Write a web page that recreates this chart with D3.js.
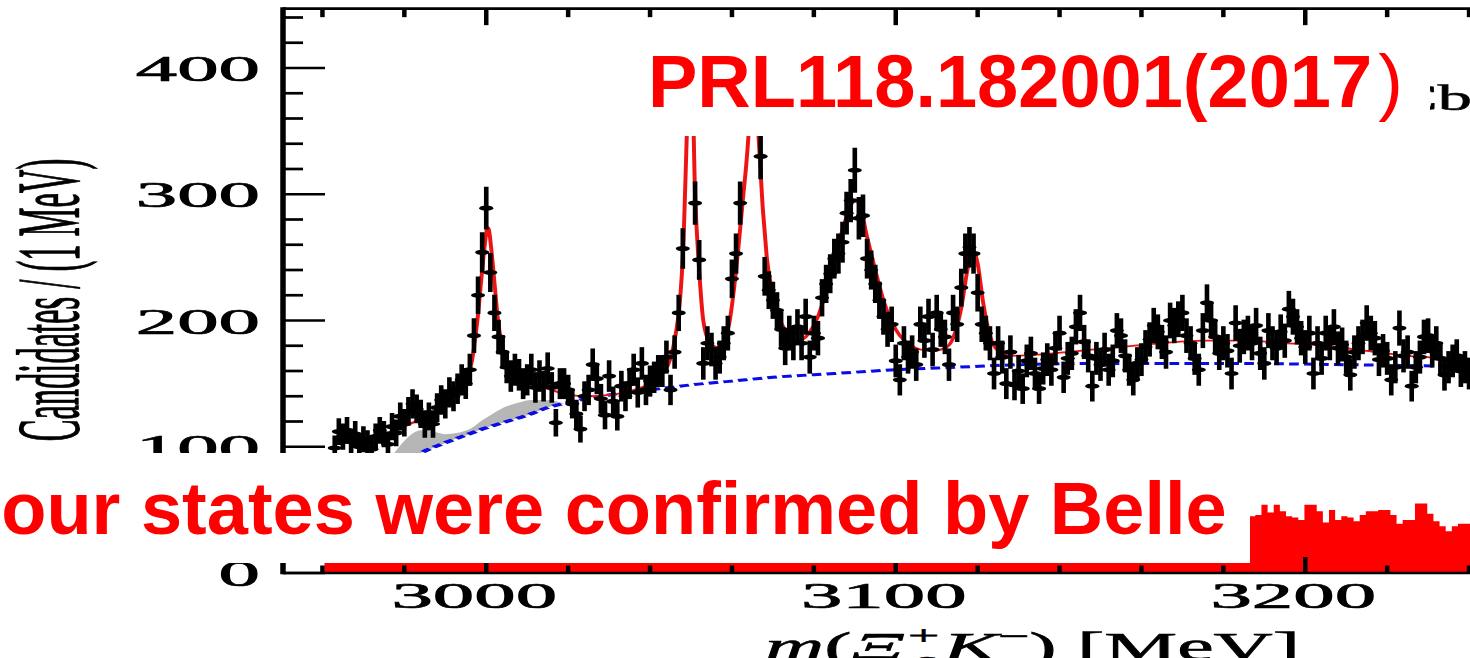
<!DOCTYPE html>
<html>
<head>
<meta charset="utf-8">
<script src="https://cdn.jsdelivr.net/npm/d3@7"></script>
<style>
  html, body { margin: 0; padding: 0; background: #fff; overflow: hidden; }
  svg { display: block; }
</style>
</head>
<body>
<svg id="chart" width="1470" height="658"></svg>
<script>
// ---- data -------------------------------------------------------------
// Xi_c+ K- invariant-mass spectrum, 1 MeV bins, first bin centred at 2963 MeV
const massStart = 2963;
const counts = [
  99, 112, 108, 113, 104, 110, 100, 106, 103, 98,        // 2963-2972
  108, 113, 110, 102, 116, 111, 124, 119, 128, 134,      // 2973-2982
  130, 126, 118, 124, 118, 131, 137, 134, 143, 140,      // 2983-2992
  146, 153, 150, 161, 188, 220, 254, 289, 238, 206,      // 2993-3002
  187, 175, 163, 156, 161, 157, 150, 153, 161, 147,      // 3003-3012
  156, 148, 162, 147, 119, 150, 150, 145, 134, 126,      // 3013-3022
  114, 140, 145, 165, 154, 138, 125, 156, 136, 124,      // 3023-3032
  148, 140, 150, 161, 143, 166, 145, 152, 155, 160,      // 3033-3042
  160, 171, 145, 175, 206, 257, 375, 410, 293, 248,      // 3043-3052
  166, 182, 177, 166, 171, 182, 190, 233, 253, 293,      // 3053-3062
  375, 405, 395, 380, 330, 235, 224, 216, 208, 193,      // 3063-3072
  178, 190, 182, 195, 182, 203, 171, 190, 186, 218,      // 3073-3082
  229, 237, 249, 253, 262, 285, 295, 319, 281, 283,      // 3083-3092
  249, 240, 229, 216, 203, 193, 197, 168, 153, 182,      // 3093-3102
  171, 175, 165, 197, 184, 203, 177, 206, 193, 187,      // 3103-3112
  165, 206, 197, 226, 253, 258, 253, 222, 197, 190,      // 3113-3122
  182, 158, 182, 171, 150, 175, 149, 160, 146, 168,      // 3123-3132
  174, 158, 146, 162, 169, 161, 178, 190, 155, 170,      // 3133-3142
  174, 195, 206, 183, 172, 148, 170, 165, 177, 161,      // 3143-3152
  168, 192, 188, 172, 161, 153, 166, 169, 179, 185,      // 3153-3162
  196, 191, 183, 175, 200, 196, 201, 206, 188, 182,      // 3163-3172
  170, 161, 192, 214, 200, 187, 174, 182, 176, 158,      // 3173-3182
  198, 180, 187, 190, 182, 196, 174, 166, 192, 182,      // 3183-3192
  178, 191, 184, 209, 203, 195, 186, 179, 190, 158,      // 3193-3202
  182, 170, 190, 182, 195, 178, 181, 171, 157, 175,      // 3203-3212
  182, 187, 198, 190, 186, 169, 176, 170, 153, 163,      // 3213-3222
  194, 172, 175, 148, 163, 171, 187, 188, 176, 182,      // 3223-3232
  170, 157, 163, 168, 172, 160, 163, 158                 // 3233-3240
];

// total fit (signal + feed-down + background), sampled along the curve
const fitMass = [2963, 2968, 2972, 2976, 2980, 2984, 2988, 2991, 2993, 2995,
  2996.5, 2998, 2999.3, 3000.4, 3001.5, 3002.7, 3004, 3005.5, 3008, 3012,
  3016, 3020, 3025, 3030, 3035, 3040, 3043, 3045, 3046.3, 3047.3,
  3048.2, 3049, 3050, 3051, 3052, 3053, 3054.5, 3056.5, 3058, 3059.3,
  3060.5, 3061.5, 3062.5, 3064, 3065.2, 3066.5, 3067.5, 3068.5, 3069.7, 3071,
  3073, 3075, 3077, 3079, 3081, 3083, 3085, 3087, 3089, 3090.2,
  3091.5, 3093, 3095, 3097, 3099, 3101, 3103, 3106, 3109, 3112,
  3114, 3116, 3117.5, 3118.8, 3120, 3121.3, 3123, 3125, 3128, 3135,
  3145, 3155, 3165, 3175, 3185, 3195, 3205, 3215, 3225, 3235, 3245, 3250];
const fitCounts = [103, 104, 106, 111, 116, 122, 129, 136, 142, 151,
  168, 205, 250, 274, 248, 205, 177, 163, 154, 149,
  145, 141, 140, 141, 144, 150, 158, 170, 190, 215,
  265, 350, 425, 300, 240, 200, 183, 179, 184, 197,
  225, 255, 290, 345, 420, 346, 290, 250, 225, 207,
  192, 185, 185, 191, 203, 223, 247, 272, 291, 296,
  288, 266, 240, 216, 199, 188, 182, 177, 176, 178,
  186, 210, 240, 256, 245, 215, 188, 176, 172, 173,
  176, 179, 182, 184, 184, 182, 180, 176, 172, 170, 168, 167];

// combinatorial background component
const bkgMass = [2963, 2968, 2972, 2976, 2980, 2984, 2989, 2994, 3000, 3005,
  3010, 3015, 3020, 3030, 3040, 3050, 3060, 3070, 3085, 3100,
  3115, 3130, 3150, 3180, 3210, 3250];
const bkgCounts = [40, 58, 70, 79, 87, 95, 102, 108, 115, 120,
  125, 131, 135, 141, 145, 149, 152, 155, 158, 161,
  163, 165, 166, 166, 165, 163];

// partially reconstructed feed-down band (lower and upper edge)
const feedMass = [2972, 2975, 2978, 2981, 2984, 2987, 2990, 2993, 2996, 2999,
  3002, 3005, 3008, 3011, 3014, 3017, 3019];
const feedLow = [70, 77, 83, 89, 95, 99, 103, 107, 110, 114,
  117, 120, 123, 126, 130, 133, 134];
const feedHigh = [70, 84, 97, 108, 113, 112, 110, 111, 114, 121,
  127, 132, 135, 137, 137, 136, 134];

// Belle spectrum, filled histogram (bin edges in MeV)
const belleEdges = [2960.5, 3186.3, 3187.8, 3189.3, 3190.8, 3192.3, 3193.8, 3195.3,
  3196.8, 3198.3, 3199.8, 3201.3, 3202.8, 3204.3, 3205.8, 3207.3, 3208.8,
  3210.3, 3211.8, 3213.3, 3214.8, 3216.3, 3217.8, 3219.3, 3220.8, 3222.3,
  3223.8, 3225.3, 3226.8, 3228.3, 3229.8, 3231.3, 3232.8, 3234.3, 3235.8,
  3237.3, 3238.8, 3240.3, 3241.8];
const belleCounts = [45, 45, 46, 54, 48, 54, 49, 45, 44, 42,
  54, 54, 49, 40, 50, 42, 45, 44, 41, 46,
  49, 49, 50, 50, 46, 39, 42, 42, 55, 55,
  47, 41, 37, 33, 37, 39, 39, 40];

const yMajorTicks = [0, 100, 200, 300, 400];
const yTickLabels = ["0", "100", "200", "300", "400"];
const xMajorTicks = [3000, 3100, 3200];
const xTickLabels = ["3000", "3100", "3200"];

// ---- layout -----------------------------------------------------------
const svg = d3.select("#chart");
const x = d3.scaleLinear().domain([2950, 3250]).range([281.5, 281.5 + 300 * 4.095]);
const y = d3.scaleLinear().domain([0, 447]).range([573, 573 - 447 * 1.2625]);

// the plot body is drawn in a horizontally stretched frame
const K = 2.2;
const xs = d3.scaleLinear().domain(x.domain()).range(x.range().map(v => v / K));

svg.append("defs").append("clipPath").attr("id", "plotClip")
  .append("rect")
  .attr("x", x.range()[0]).attr("y", y(447))
  .attr("width", x.range()[1] - x.range()[0]).attr("height", y(0) - y(447));

const plot = svg.append("g").attr("clip-path", "url(#plotClip)");
const body = plot.append("g").attr("transform", `scale(${K},1)`);

// feed-down band
const feed = feedMass.map((m, i) => [m, feedLow[i], feedHigh[i]]);
body.append("path")
  .datum(feed)
  .attr("fill", "#b6b6b6")
  .attr("d", d3.area().x(d => xs(d[0])).y0(d => y(d[1])).y1(d => y(d[2])).curve(d3.curveMonotoneX));

// background
body.append("path")
  .datum(bkgMass.map((m, i) => [m, bkgCounts[i]]))
  .attr("fill", "none")
  .attr("stroke", "#0b0be6")
  .attr("stroke-width", 3)
  .attr("stroke-dasharray", "4.4 2.4")
  .attr("d", d3.line().x(d => xs(d[0])).y(d => y(d[1])).curve(d3.curveMonotoneX));

// total fit
body.append("path")
  .datum(fitMass.map((m, i) => [m, fitCounts[i]]))
  .attr("fill", "none")
  .attr("stroke", "#ee1414")
  .attr("stroke-width", 1.8)
  .attr("d", d3.line().x(d => xs(d[0])).y(d => y(d[1])).curve(d3.curveMonotoneX));

// data points with Poisson error bars
const pts = counts.map((c, i) => ({ m: massStart + i, c: c, e: Math.sqrt(c) }));
const pg = body.append("g");
pg.selectAll("line.err").data(pts).join("line")
  .attr("class", "err")
  .attr("x1", d => xs(d.m)).attr("x2", d => xs(d.m))
  .attr("y1", d => y(d.c - d.e)).attr("y2", d => y(d.c + d.e))
  .attr("stroke", "#000").attr("stroke-width", 2.1);
pg.selectAll("ellipse").data(pts).join("ellipse")
  .attr("cx", d => xs(d.m)).attr("cy", d => y(d.c))
  .attr("rx", 3.2).attr("ry", 2.6)
  .attr("fill", "#000");

// Belle histogram
const bellePts = belleCounts.map((c, i) => [belleEdges[i], c]);
bellePts.push([belleEdges[belleEdges.length - 1], belleCounts[belleCounts.length - 1]]);
plot.append("path")
  .datum(bellePts)
  .attr("fill", "#ff0000")
  .attr("d", d3.area().x(d => x(d[0])).y0(y(0)).y1(d => y(d[1])).curve(d3.curveStepAfter));

// ---- axes -------------------------------------------------------------
const ax = svg.append("g").attr("stroke", "#000").attr("fill", "none");
const x0 = 283, xEnd = 1520, yTop = y(447), yBot = y(0);
ax.append("line").attr("x1", x0).attr("x2", x0).attr("y1", yTop - 1.3).attr("y2", yBot + 1.3).attr("stroke-width", 5.5);
ax.append("line").attr("x1", x0).attr("x2", xEnd).attr("y1", yTop).attr("y2", yTop).attr("stroke-width", 2.7);
ax.append("line").attr("x1", x0).attr("x2", xEnd).attr("y1", yBot).attr("y2", yBot).attr("stroke-width", 2.7);

const yMinor = d3.range(0, 447, 20);
ax.selectAll("line.yt").data(yMinor).join("line").attr("class", "yt")
  .attr("x1", x0).attr("x2", v => x0 + (v % 100 === 0 ? 42 : 20))
  .attr("y1", v => y(v)).attr("y2", v => y(v)).attr("stroke-width", 2.7);

const xMinor = d3.range(2960, 3251, 20);
ax.selectAll("line.xtt").data(xMinor).join("line").attr("class", "xtt")
  .attr("x1", m => x(m)).attr("x2", m => x(m))
  .attr("y1", yTop).attr("y2", m => yTop + (m % 100 === 0 ? 16.5 : 8.5)).attr("stroke-width", 4.5);
ax.selectAll("line.xtb").data(xMinor).join("line").attr("class", "xtb")
  .attr("x1", m => x(m)).attr("x2", m => x(m))
  .attr("y1", yBot).attr("y2", m => yBot - (m % 100 === 0 ? 16 : 7.5)).attr("stroke-width", 4.5);

const serif = "'Liberation Serif', 'Times New Roman', serif";
const labels = svg.append("g").attr("fill", "#000").attr("stroke", "#000").attr("stroke-width", 0.7)
  .attr("font-family", serif).attr("font-size", 36);
labels.selectAll("text.yl").data(yMajorTicks).join("text").attr("class", "yl")
  .attr("transform", (v) => `translate(260,${y(v) + 13}) scale(2.3,1)`)
  .attr("text-anchor", "end")
  .text((v, i) => yTickLabels[i]);
labels.selectAll("text.xl").data(xMajorTicks).join("text").attr("class", "xl")
  .attr("transform", (m) => `translate(${x(m) - 12},608) scale(2.3,1)`)
  .attr("text-anchor", "middle")
  .text((m, i) => xTickLabels[i]);

// axis titles
svg.append("text")
  .attr("transform", "translate(78,300) scale(2.75,1) rotate(-90)")
  .attr("text-anchor", "middle")
  .attr("font-family", serif).attr("font-size", 32.5).attr("fill", "#000")
  .attr("stroke", "#000").attr("stroke-width", 0.5)
  .text("Candidates / (1 MeV)");

const xt = svg.append("text")
  .attr("transform", `translate(765,660) scale(2.05,1)`)
  .attr("font-family", serif).attr("font-size", 40).attr("fill", "#000")
  .attr("stroke", "#000").attr("stroke-width", 0.6);
xt.append("tspan").attr("font-style", "italic").text("m");
xt.append("tspan").text("(");
xt.append("tspan").attr("font-style", "italic").text("Ξ");
xt.append("tspan").attr("font-size", 27).attr("dy", -15).attr("dx", 2).text("+");
xt.append("tspan").attr("font-size", 27).attr("font-style", "italic").attr("dy", 25).attr("dx", -14).text("c");
xt.append("tspan").attr("font-style", "italic").attr("dy", -10).attr("dx", 4).text("K");
xt.append("tspan").attr("font-size", 27).attr("dy", -15).text("−");
xt.append("tspan").attr("dy", 15).text(") [MeV]");

// experiment tag
svg.append("text")
  .attr("transform", "translate(1472,110) scale(1.9,1)")
  .attr("text-anchor", "end")
  .attr("font-family", serif).attr("font-size", 36).attr("fill", "#000")
  .attr("stroke", "#000").attr("stroke-width", 0.6)
  .text("LHCb");

// ---- caption panels ---------------------------------------------------
svg.append("rect").attr("x", 600).attr("y", 27).attr("width", 830).attr("height", 109).attr("fill", "#fff");
svg.append("rect").attr("x", 0).attr("y", 453).attr("width", 1250).attr("height", 110).attr("fill", "#fff");

const sans = "'Liberation Sans', Arial, Helvetica, sans-serif";
const ref = svg.append("text")
  .attr("x", 648).attr("y", 107)
  .attr("font-family", sans).attr("font-weight", "bold").attr("font-size", 74).attr("fill", "#ff0000");
ref.append("tspan").text("PRL118.182001(2017");
ref.append("tspan").attr("font-weight", "normal").attr("dx", 6).text(")");

svg.append("text")
  .attr("x", -44).attr("y", 534)
  .attr("font-family", sans).attr("font-weight", "bold").attr("font-size", 74).attr("fill", "#ff0000")
  .text("Four states were confirmed by Belle");
</script>
</body>
</html>
